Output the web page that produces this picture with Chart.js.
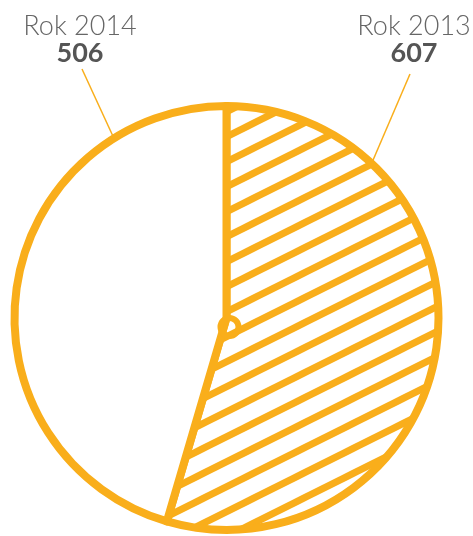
<!doctype html>
<html lang="pl">
<head>
<meta charset="utf-8">
<title>Rok 2013 / Rok 2014</title>
<style>
  * { margin: 0; padding: 0; }
  body { background: #fff; }
  #box { width: 473px; height: 536px; }
</style>
</head>
<body>
<div id="box"><canvas id="myChart" width="473" height="536"></canvas></div>
<script src="https://cdn.jsdelivr.net/npm/chart.js/dist/chart.umd.min.js"></script>
<script>
// data
const years = ['Rok 2013', 'Rok 2014'];
const values = [607, 506];
// where each leader line touches the circle (degrees clockwise from top)
const pointerAngles = [43, 328];

const orange = '#f9ae1b';

// diagonal hatching for the 2013 slice
function makeHatch(ctx) {
  const c = document.createElement('canvas');
  c.width = 50;
  c.height = 25;
  const g = c.getContext('2d');
  g.fillStyle = '#fff';
  g.fillRect(0, 0, 50, 25);
  g.strokeStyle = orange;
  g.lineWidth = 7;
  for (const off of [-25, 0, 25]) {
    g.beginPath();
    g.moveTo(-2, 26 + off);
    g.lineTo(52, -1 + off);
    g.stroke();
  }
  return ctx.createPattern(c, 'repeat');
}

// labels on top + thin leader lines + little knot in the middle
const labelPlugin = {
  id: 'labelPlugin',
  afterDraw(chart) {
    const ctx = chart.ctx;
    const arc = chart.getDatasetMeta(0).data[0];
    const cx = arc.x, cy = arc.y, r = arc.outerRadius;
    const spots = [
      { x: 414, lineX: 410, lineY: 74 },
      { x: 80, lineX: 82, lineY: 69 }
    ];

    ctx.save();
    years.forEach((y, i) => {
      const s = spots[i];
      ctx.textAlign = 'center';
      ctx.textBaseline = 'alphabetic';
      ctx.fillStyle = '#666';
      ctx.font = '300 27px Lato, "Open Sans", sans-serif';
      ctx.fillText(y, s.x, 35);
      ctx.fillStyle = '#555';
      ctx.font = 'bold 27px Lato, "Open Sans", sans-serif';
      ctx.fillText(String(values[i]), s.x, 62);

      const a = (pointerAngles[i] - 90) * Math.PI / 180;
      ctx.beginPath();
      ctx.moveTo(s.lineX, s.lineY);
      ctx.lineTo(cx + Math.cos(a) * (r + 2), cy + Math.sin(a) * (r + 2));
      ctx.strokeStyle = orange;
      ctx.lineWidth = 1.5;
      ctx.stroke();
    });

    ctx.beginPath();
    ctx.arc(cx + 3, cy + 9, 9, 0, Math.PI * 2);
    ctx.strokeStyle = orange;
    ctx.lineWidth = 6;
    ctx.stroke();
    ctx.restore();
  }
};

const canvas = document.getElementById('myChart');
const hatch = makeHatch(canvas.getContext('2d'));

const data = {
  labels: years,
  datasets: [{
    data: values,
    backgroundColor: [hatch, '#ffffff'],
    borderColor: orange,
    borderWidth: 8,
    hoverOffset: 0,
    borderJoinStyle: 'round'
  }]
};

const config = {
  type: 'pie',
  data,
  options: {
    responsive: false,
    animation: false,
    devicePixelRatio: 1,
    rotation: 0,
    layout: {
      padding: { top: 102, bottom: 2, left: 4, right: 24 }
    },
    plugins: {
      legend: { display: false },
      tooltip: { enabled: false }
    }
  },
  plugins: [labelPlugin]
};

const myChart = new Chart(canvas, config);
</script>
</body>
</html>
